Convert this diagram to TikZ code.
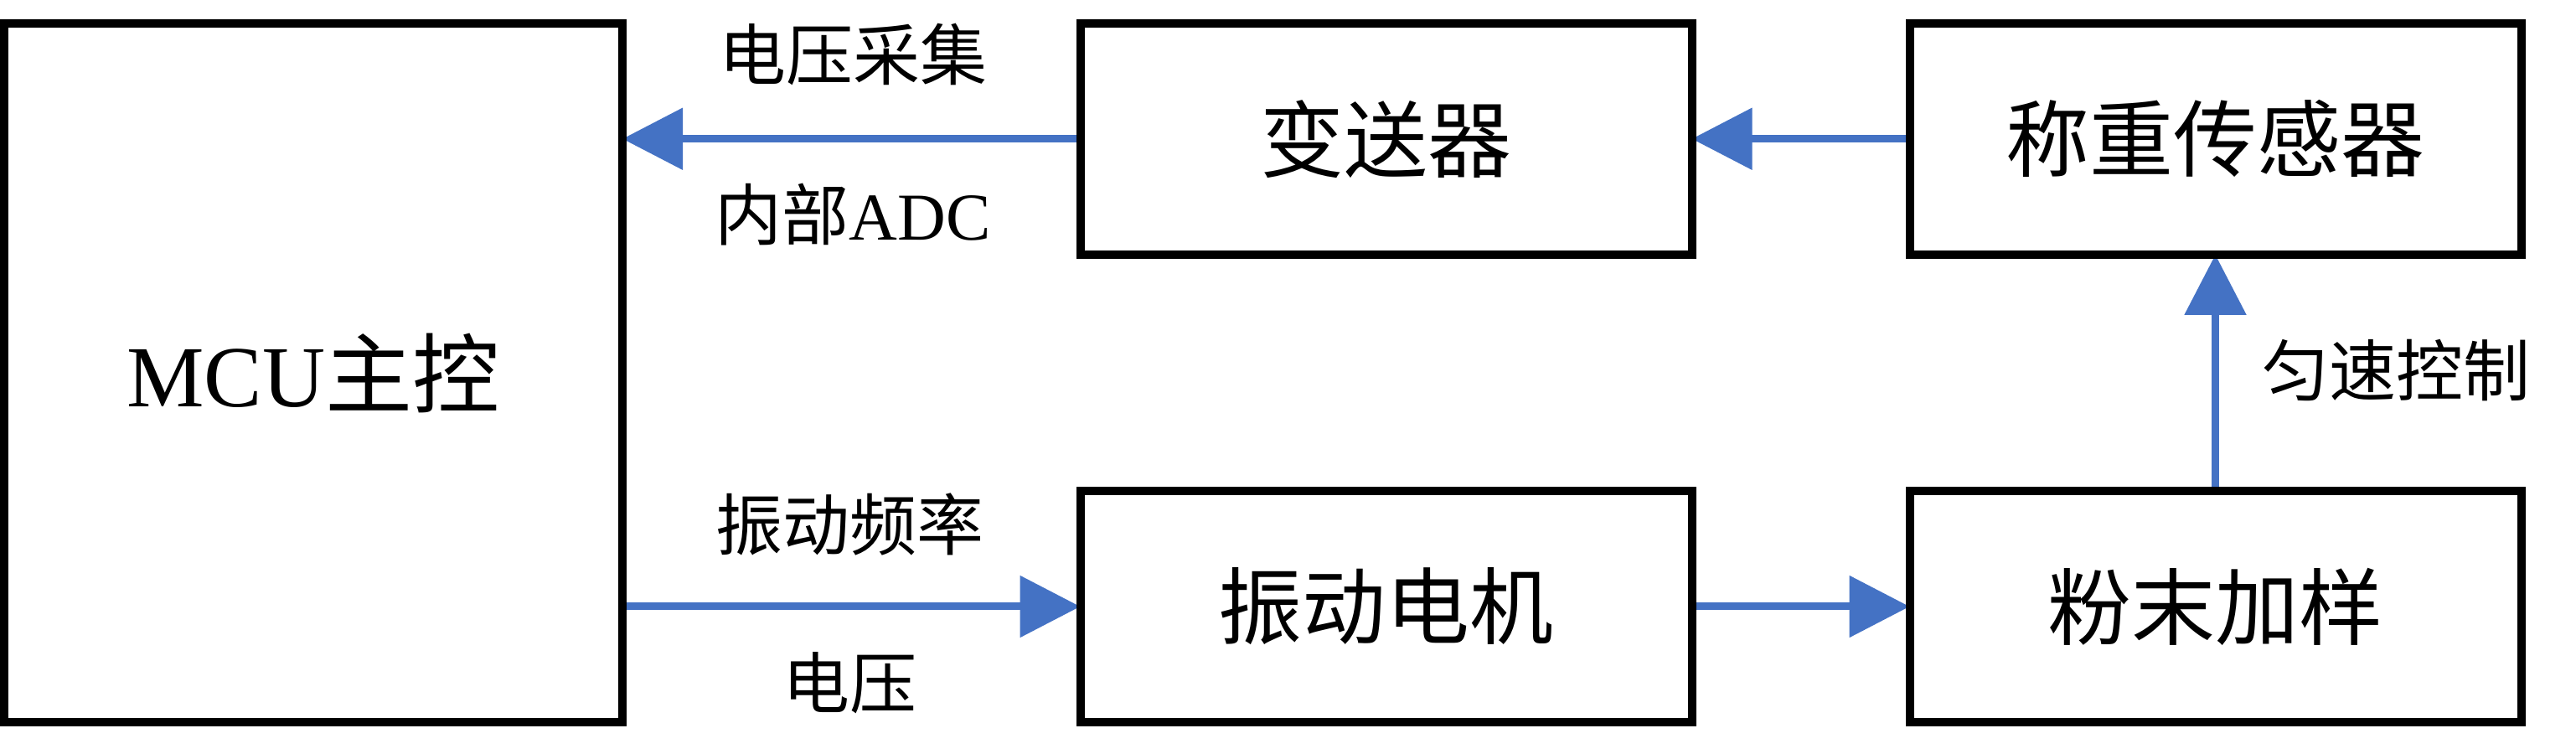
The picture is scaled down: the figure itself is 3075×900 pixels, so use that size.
\documentclass[tikz,border=0pt]{standalone}
\usepackage{fontspec}
\usepackage{xcolor}
\setmainfont{Liberation Serif}
\newfontfamily\cjk{Noto Sans CJK SC}
\usetikzlibrary{arrows.meta}
\definecolor{edgeblue}{HTML}{4472C4}
\tikzstyle{block}=[draw=black, line width=2.5pt, outer sep=0pt, inner sep=0pt, minimum width=182.5pt, minimum height=69.1pt, font=\fontsize{25pt}{30pt}\selectfont]
\tikzstyle{big block}=[block, minimum width=184.5pt, minimum height=208.6pt, font=\fontsize{26pt}{31pt}\selectfont]
\tikzstyle{tag}=[inner sep=0pt, font=\fontsize{20pt}{24pt}\selectfont]
\tikzstyle{blue edge}=[-{Triangle[length=18pt, width=18pt]}, draw=edgeblue, line width=2.25pt, line cap=round]
\pgfdeclarelayer{nodelayer}
\pgfdeclarelayer{edgelayer}
\pgfsetlayers{edgelayer,nodelayer,main}

\begin{document}
\begin{tikzpicture}[x=0.25pt, y=0.25pt]
	\useasboundingbox (0, 0) rectangle (3075, 900);
	\begin{pgfonlayer}{nodelayer}
		\node [style=big block] (0) at (374, 454.75) {MCU{\cjk 主控}};
		\node [style=block] (1) at (1654.5, 734.25) {\cjk 变送器};
		\node [style=block] (2) at (2644.5, 734.25) {\cjk 称重传感器};
		\node [style=block] (3) at (1654.5, 176) {\cjk 振动电机};
		\node [style=block] (4) at (2644.5, 176) {\cjk 粉末加样};
		\node [style=tag] (5) at (1018, 835) {\cjk 电压采集};
		\node [style=tag] (6) at (1018, 644) {{\cjk 内部}ADC};
		\node [style=tag] (7) at (1014, 274) {\cjk 振动频率};
		\node [style=tag] (8) at (1014, 85) {\cjk 电压};
		\node [style=tag] (9) at (2860, 458) {\cjk 匀速控制};
	\end{pgfonlayer}
	\begin{pgfonlayer}{edgelayer}
		\draw [style=blue edge] (1.west) to (1.west -| 0.east);
		\draw [style=blue edge] (2.west) to (1.east);
		\draw [style=blue edge] (4.north) to (2.south);
		\draw [style=blue edge] (3.west -| 0.east) to (3.west);
		\draw [style=blue edge] (3.east) to (4.west);
	\end{pgfonlayer}
\end{tikzpicture}
\end{document}
